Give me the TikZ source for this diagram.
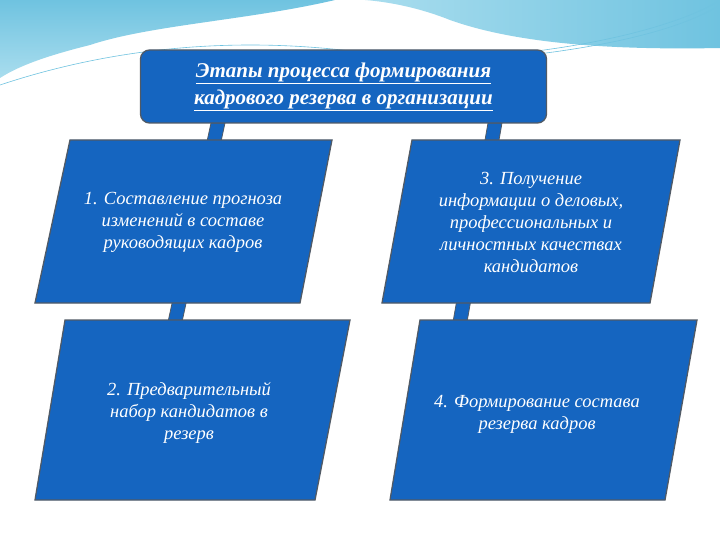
\documentclass[tikz,border=0pt]{standalone}
\usepackage{fontspec}
\setmainfont{Liberation Serif}
\definecolor{boxblue}{HTML}{1565C0}
\definecolor{edge}{HTML}{505a66}
\definecolor{skyA}{HTML}{6FC3E0}
\definecolor{skyB}{HTML}{A9DDEE}
\tikzset{
  para/.style={draw=edge,line width=1.3pt,fill=boxblue},
  bar/.style={draw=edge,line width=0.8pt,fill=boxblue},
  txt/.style={text=white,font=\itshape\fontsize{18.5}{22}\selectfont,align=center},
}
\begin{document}
\begin{tikzpicture}[x=1pt,y=-1pt]
\useasboundingbox (0,0) rectangle (720,540);
\fill[white] (0,0) rectangle (720,540);
% header
\shade[top color=skyA,bottom color=skyB] (0,0) -- (335,0) .. controls (250,20) and (150,25) .. (90,45) .. controls (50,55) and (20,65) .. (0,78) -- cycle;
\shade[left color=skyB,right color=skyA] (365,0) -- (720,0) -- (720,48) .. controls (620,50) and (520,45) .. (450,20) .. controls (420,8) and (390,2) .. (365,0) -- cycle;
\draw[skyA,line width=0.6pt] (0,85) .. controls (120,45) and (250,35) .. (380,55);
\draw[skyA,line width=0.6pt] (480,60) .. controls (600,50) and (680,30) .. (720,5);
\draw[skyA,line width=0.6pt] (500,55) .. controls (610,45) and (690,20) .. (720,0);
% connectors
\filldraw[bar] (211,123) -- (225,123) -- (182,322) -- (168,322) -- cycle;
\filldraw[bar] (488,123) -- (502,123) -- (467,322) -- (453,322) -- cycle;
% title
\node[draw=edge,line width=1.3pt,fill=boxblue,rounded corners=9pt,minimum width=406pt,minimum height=73pt] (title) at (343.5,86.5) {};
\node[text=white,font=\bfseries\itshape\fontsize{21}{27}\selectfont,align=center] at (title) {\underline{Этапы процесса формирования}\\\underline{кадрового резерва в организации}};
% boxes
\filldraw[para] (70,140) -- (332,140) -- (300,303) -- (35,303) -- cycle;
\node[txt] (b1) at (183,222) {1. Составление прогноза\\изменений в составе\\руководящих кадров};
\filldraw[para] (65,320) -- (350,320) -- (315,500) -- (35,500) -- cycle;
\node[txt] (b2) at (189,413) {2. Предварительный\\набор кандидатов в\\резерв};
\filldraw[para] (412,140) -- (680,140) -- (650,303) -- (382,303) -- cycle;
\node[txt] (b3) at (531,222) {3. Получение\\информации о деловых,\\профессиональных и\\личностных качествах\\кандидатов};
\filldraw[para] (420,320) -- (697,320) -- (665,500) -- (390,500) -- cycle;
\node[txt] (b4) at (537,414) {4. Формирование состава\\резерва кадров};
\end{tikzpicture}
\end{document}
